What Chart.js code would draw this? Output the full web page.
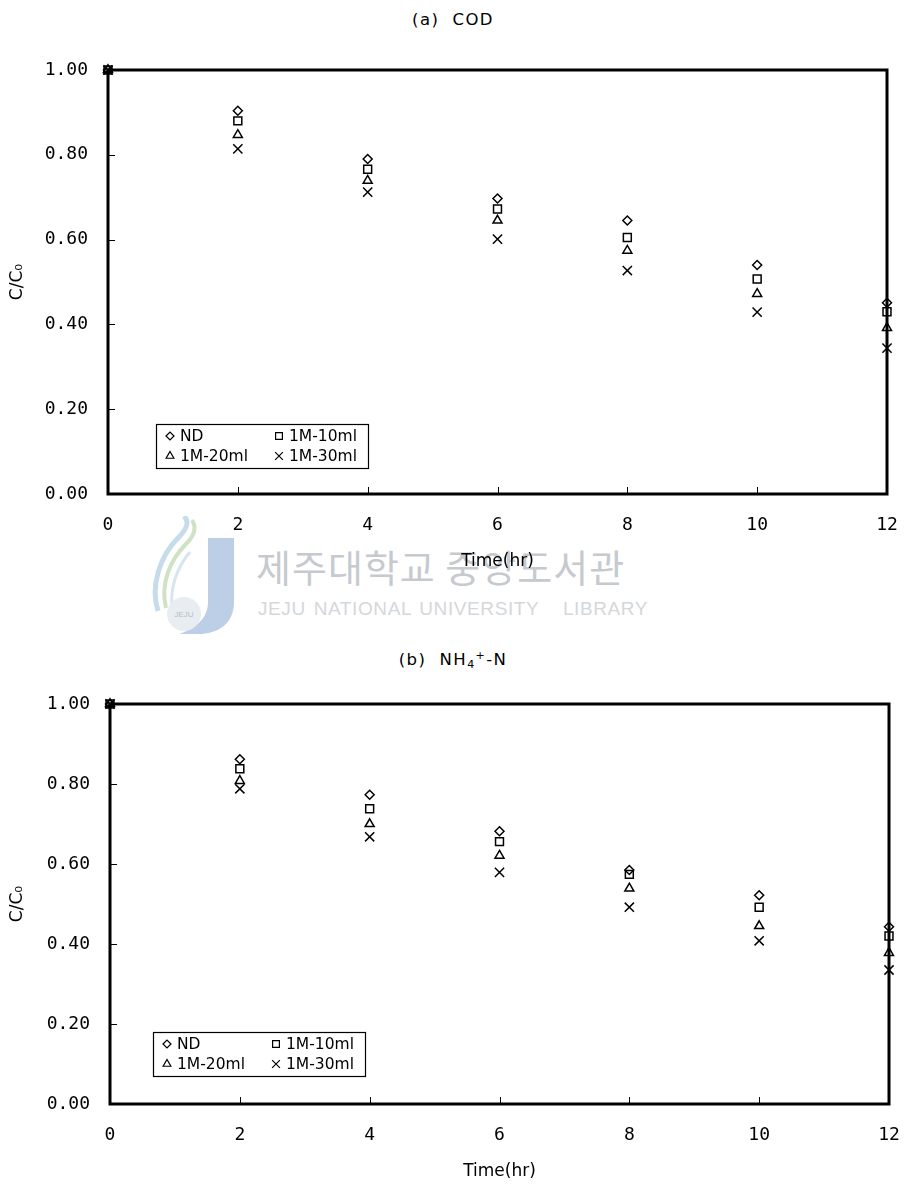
<!DOCTYPE html>
<html>
<head>
<meta charset="utf-8">
<script src="https://cdn.jsdelivr.net/npm/chart.js@4.4.1/dist/chart.umd.min.js"></script>
<style>
  html, body { margin: 0; padding: 0; background: #fff; }
  body { width: 906px; height: 1184px; position: relative; overflow: hidden;
         font-family: "DejaVu Sans", sans-serif; color: #000; }
  .title { position: absolute; left: 0; width: 906px; text-align: center;
           font-size: 16.5px; letter-spacing: 1.4px; line-height: 20px; color: #000; }
  .title sub { font-size: 11px; vertical-align: -3px; line-height: 0; }
  .title sup { font-size: 11px; vertical-align: 6px; line-height: 0; }
  .wrap { position: absolute; left: 0; }
  canvas { display: block; }
  #wm { position: absolute; left: 150px; top: 516px; width: 520px; height: 120px; }
  #wm svg { position: absolute; left: 0; top: 0; }
  #wm .ko { position: absolute; left: 106px; top: 28px; font-family: "Noto Sans CJK KR", sans-serif;
            font-size: 38px; line-height: 44px; color: #c6cacf; white-space: nowrap; letter-spacing: 1px; }
  #wm .en { position: absolute; left: 108px; top: 82px; font-family: "Liberation Sans", Arial, sans-serif;
            font-size: 19px; line-height: 22px; color: #d4d7db; white-space: nowrap; letter-spacing: 0.6px; word-spacing: 2px; }
</style>
</head>
<body>

<div class="title" style="top:10px">(a)&nbsp; COD</div>
<div class="title" style="top:650px">(b)&nbsp; NH<sub>4</sub><sup>+</sup>-N</div>

<div id="wm">
  <svg width="100" height="120" viewBox="0 0 100 120">
    <path d="M8 95 C0 70 10 40 28 22 C40 10 38 4 34 0" fill="none" stroke="#c7dceb" stroke-width="5"/>
    <path d="M16 92 C10 68 20 44 36 28 C46 18 46 10 42 4" fill="none" stroke="#cfe3c4" stroke-width="4"/>
    <path d="M22 90 C20 70 28 50 40 36" fill="none" stroke="#d6e6f0" stroke-width="3"/>
    <path d="M58 22 L84 22 L84 86 C84 108 68 118 48 118 L30 118 C44 112 58 104 58 86 Z" fill="#bccfe6"/>
    <circle cx="34" cy="98" r="17" fill="#e8edf2"/>
    <text x="34" y="101" text-anchor="middle" font-family="Liberation Sans" font-size="8" fill="#b6bec8">JEJU</text>
  </svg>
  <div class="ko">제주대학교 중앙도서관</div>
  <div class="en">JEJU NATIONAL UNIVERSITY&nbsp;&nbsp; LIBRARY</div>
</div>

<div class="wrap" style="top:0"><canvas id="codChart" width="906" height="600"></canvas></div>
<div class="wrap" style="top:640px"><canvas id="nhChart" width="906" height="544"></canvas></div>

<script>
// Sampling times (hr) and axis ticks
const hours = [0, 2, 4, 6, 8, 10, 12];
const timeTicks = [0, 2, 4, 6, 8, 10, 12];
const ratioTicks = [0.0, 0.2, 0.4, 0.6, 0.8, 1.0];
const seriesNames = ['ND', '1M-10ml', '1M-20ml', '1M-30ml'];

// (a) COD removal, C/C0
const codND  = [1.00, 0.904, 0.790, 0.697, 0.645, 0.540, 0.451];
const cod10  = [1.00, 0.880, 0.766, 0.672, 0.605, 0.507, 0.430];
const cod20  = [1.00, 0.847, 0.739, 0.645, 0.574, 0.472, 0.392];
const cod30  = [1.00, 0.814, 0.712, 0.601, 0.527, 0.429, 0.344];

// (b) NH4+-N removal, C/C0
const nhND   = [1.00, 0.862, 0.773, 0.682, 0.585, 0.522, 0.443];
const nh10   = [1.00, 0.838, 0.738, 0.656, 0.574, 0.492, 0.420];
const nh20   = [1.00, 0.808, 0.700, 0.621, 0.539, 0.445, 0.378];
const nh30   = [1.00, 0.788, 0.668, 0.579, 0.492, 0.408, 0.335];

const markerStyles = [
  { pointStyle: 'rectRot',  radius: 4.5, legendRadius: 4 },
  { pointStyle: 'rect',     radius: 5.6, legendRadius: 4.8 },
  { pointStyle: 'triangle', radius: 5.2, legendRadius: 4.5 },
  { pointStyle: 'crossRot', radius: 6.5, legendRadius: 5.5 }
];

const tickFont = { family: '"DejaVu Sans Mono", monospace', size: 18 };
const titleFont = { family: '"DejaVu Sans", sans-serif', size: 17 };

function makeDatasets(seriesList) {
  return seriesList.map((vals, i) => ({
    label: seriesNames[i],
    data: hours.map((h, k) => ({ x: h, y: vals[k] })),
    showLine: false,
    pointStyle: markerStyles[i].pointStyle,
    pointRadius: markerStyles[i].radius,
    pointHoverRadius: markerStyles[i].radius,
    pointBorderWidth: 1.5,
    pointBorderColor: '#000',
    pointBackgroundColor: 'rgba(0,0,0,0)',
    borderColor: '#000',
    backgroundColor: 'rgba(0,0,0,0)',
    clip: false
  }));
}

// Frame with inward tick marks
const framePlugin = {
  id: 'frame',
  afterDatasetsDraw(chart) {
    const { ctx, chartArea: { left, right, top, bottom }, scales: { x, y } } = chart;
    ctx.save();
    ctx.strokeStyle = '#000';
    ctx.lineWidth = 1;
    ctx.beginPath();
    x.ticks.forEach(t => {
      const px = Math.round(x.getPixelForValue(t.value)) + 0.5;
      ctx.moveTo(px, bottom); ctx.lineTo(px, bottom - 7);
    });
    y.ticks.forEach(t => {
      const py = Math.round(y.getPixelForValue(t.value)) + 0.5;
      ctx.moveTo(left, py); ctx.lineTo(left + 7, py);
    });
    ctx.stroke();
    ctx.lineWidth = 3;
    ctx.strokeRect(left, top, right - left, bottom - top);
    ctx.restore();
  }
};

// Boxed 2x2 legend inside the plot area
const boxLegendPlugin = {
  id: 'boxLegend',
  afterDraw(chart, args, opts) {
    const { ctx, chartArea } = chart;
    const bx = chartArea.left + opts.dx, by = chartArea.bottom - opts.dy;
    const w = 212, h = 44;
    ctx.save();
    ctx.fillStyle = '#fff';
    ctx.fillRect(bx, by, w, h);
    ctx.strokeStyle = '#000';
    ctx.lineWidth = 1.2;
    ctx.strokeRect(bx + 0.5, by + 0.5, w, h);
    ctx.font = '15.5px "DejaVu Sans", sans-serif';
    ctx.textBaseline = 'middle';
    chart.data.datasets.forEach((ds, i) => {
      const col = i % 2, row = Math.floor(i / 2);
      const mx = bx + 14 + col * 109;
      const my = by + 12 + row * 20;
      ctx.strokeStyle = '#000';
      ctx.fillStyle = 'rgba(0,0,0,0)';
      ctx.lineWidth = 1.2;
      Chart.helpers.drawPoint(ctx, {
        pointStyle: markerStyles[i].pointStyle,
        rotation: 0,
        radius: markerStyles[i].legendRadius,
        borderWidth: 1.2
      }, mx, my);
      ctx.fillStyle = '#000';
      ctx.fillText(ds.label, mx + 10, my + 1);
    });
    ctx.restore();
  }
};

function buildChart(canvasId, seriesList, geom) {
  return new Chart(document.getElementById(canvasId), {
    type: 'scatter',
    data: { datasets: makeDatasets(seriesList) },
    options: {
      responsive: false,
      animation: false,
      events: [],
      layout: { padding: { top: geom.top, right: geom.right, bottom: geom.bottom, left: 0 } },
      plugins: {
        legend: { display: false },
        tooltip: { enabled: false },
        boxLegend: { dx: geom.legendDx, dy: geom.legendDy }
      },
      scales: {
        x: {
          type: 'linear', min: 0, max: 12,
          afterBuildTicks(scale) { scale.ticks = timeTicks.map(v => ({ value: v })); },
          afterFit(scale) {
            scale.height = geom.xHeight;
            scale.paddingLeft = 0;
            scale.paddingRight = 0;
          },
          grid: { display: false, drawTicks: false },
          border: { display: false },
          ticks: {
            padding: 21, color: '#000', font: tickFont,
            callback: v => String(v)
          },
          title: {
            display: true, text: 'Time(hr)', color: '#000', font: titleFont,
            padding: { top: geom.xTitlePad, bottom: geom.xTitlePad }
          }
        },
        y: {
          type: 'linear', min: 0, max: 1,
          afterBuildTicks(scale) { scale.ticks = ratioTicks.map(v => ({ value: v })); },
          afterFit(scale) { scale.width = geom.yWidth; },
          grid: { display: false, drawTicks: false },
          border: { display: false },
          ticks: {
            padding: 20, color: '#000', font: tickFont,
            callback: v => Number(v).toFixed(2)
          },
          title: {
            display: true, text: 'C/C\u2080', color: '#000', font: titleFont,
            padding: { top: 7, bottom: 7 }
          }
        }
      }
    },
    plugins: [framePlugin, boxLegendPlugin]
  });
}

buildChart('codChart', [codND, cod10, cod20, cod30], {
  top: 70, right: 19, bottom: 26, xHeight: 80, yWidth: 108, xTitlePad: 2,
  legendDx: 48, legendDy: 70
});
buildChart('nhChart', [nhND, nh10, nh20, nh30], {
  top: 64, right: 17, bottom: 0, xHeight: 80, yWidth: 110, xTitlePad: 2,
  legendDx: 43, legendDy: 72
});
</script>
</body>
</html>
